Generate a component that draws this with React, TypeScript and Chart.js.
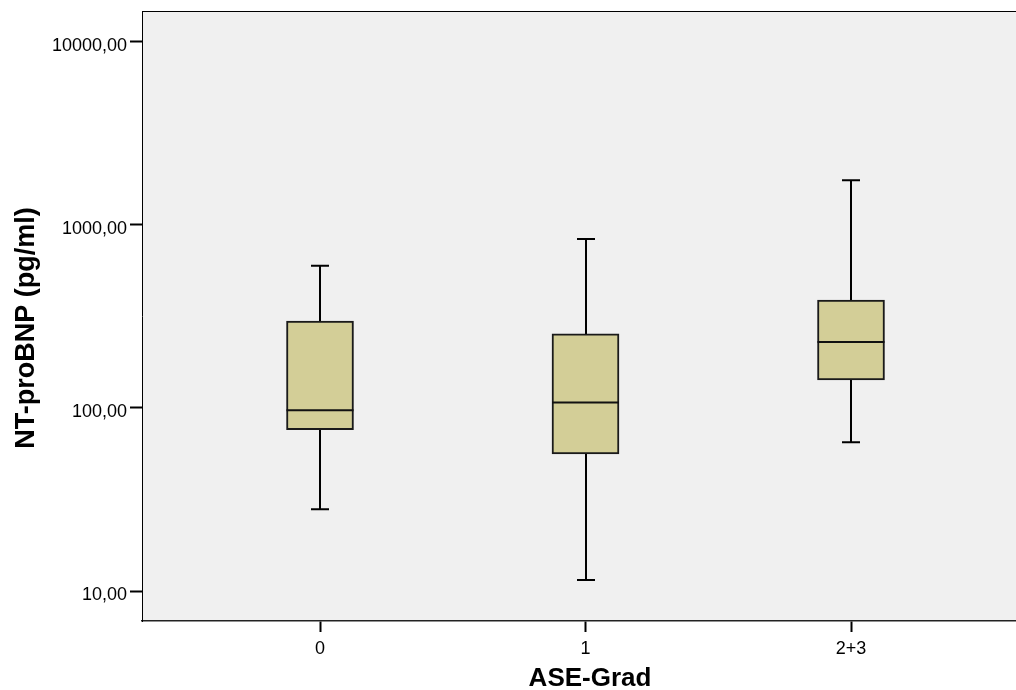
import React, { useEffect, useRef } from 'react';
import { Chart, registerables } from 'chart.js';

Chart.register(...registerables);

// ---- data ----
const categories = ['0', '1', '2+3'];
const whiskerLow = [28, 11.5, 65];
const q1 = [76, 56, 142];
const median = [97, 107, 229];
const q3 = [298, 254, 388];
const whiskerHigh = [598, 836, 1750];
const yTickValues = [10, 100, 1000, 10000];
const xTitle = 'ASE-Grad';
const yTitle = 'NT-proBNP (pg/ml)';

const FONT = "Arial, 'Liberation Sans', sans-serif";

export default function App() {
  const ref = useRef<HTMLCanvasElement>(null);

  useEffect(() => {
    const canvas = ref.current;
    if (!canvas) return;

    const capHalf = 9;

    const boxPlugin = {
      id: 'boxExtras',
      beforeDraw(chart: any) {
        const { ctx, chartArea: a } = chart;
        ctx.save();
        ctx.fillStyle = '#F0F0F0';
        ctx.fillRect(a.left, a.top, a.right - a.left, a.bottom - a.top);
        ctx.restore();
      },
      beforeDatasetsDraw(chart: any) {
        const { ctx } = chart;
        const xs = chart.scales.x;
        const ys = chart.scales.y;
        ctx.save();
        ctx.strokeStyle = '#000';
        ctx.lineWidth = 2;
        ctx.lineCap = 'butt';
        categories.forEach((_, i) => {
          const px = Math.round(xs.getPixelForValue(i));
          const yl = ys.getPixelForValue(whiskerLow[i]);
          const yh = ys.getPixelForValue(whiskerHigh[i]);
          ctx.beginPath();
          ctx.moveTo(px, yl);
          ctx.lineTo(px, yh);
          ctx.moveTo(px - capHalf, yl);
          ctx.lineTo(px + capHalf, yl);
          ctx.moveTo(px - capHalf, yh);
          ctx.lineTo(px + capHalf, yh);
          ctx.stroke();
        });
        ctx.restore();
      },
      afterDatasetsDraw(chart: any) {
        const { ctx } = chart;
        const ys = chart.scales.y;
        const meta = chart.getDatasetMeta(0);
        ctx.save();
        ctx.strokeStyle = '#111';
        ctx.lineWidth = 2;
        meta.data.forEach((bar: any, i: number) => {
          const { x, width } = bar.getProps(['x', 'width'], true);
          const ym = ys.getPixelForValue(median[i]);
          ctx.beginPath();
          ctx.moveTo(x - width / 2, ym);
          ctx.lineTo(x + width / 2, ym);
          ctx.stroke();
        });
        ctx.restore();
      },
      afterDraw(chart: any) {
        const { ctx, chartArea: a } = chart;
        ctx.save();
        // top frame line
        ctx.strokeStyle = '#000';
        ctx.lineWidth = 1;
        ctx.beginPath();
        ctx.moveTo(a.left, a.top + 0.5);
        ctx.lineTo(a.right, a.top + 0.5);
        ctx.stroke();
        // axis titles
        ctx.fillStyle = '#000';
        ctx.textAlign = 'center';
        ctx.textBaseline = 'alphabetic';
        ctx.font = `bold 26px ${FONT}`;
        ctx.fillText(xTitle, 590, 686);
        ctx.translate(34, 328);
        ctx.rotate(-Math.PI / 2);
        ctx.font = `bold 27px ${FONT}`;
        ctx.fillText(yTitle, 0, 0);
        ctx.restore();
      },
    };

    const chart = new Chart(canvas, {
      type: 'bar',
      data: {
        datasets: [
          {
            label: 'box',
            data: categories.map((_, i) => ({ x: i, y: [q1[i], q3[i]] })) as any,
            backgroundColor: '#D3CE97',
            borderColor: '#1a1a1a',
            borderWidth: 2,
            borderSkipped: false,
            barThickness: 67,
            grouped: false,
          } as any,
        ],
      },
      options: {
        animation: false,
        responsive: false,
        devicePixelRatio: 1,
        layout: { padding: { top: 11, left: 0, right: 0, bottom: 0 } },
        plugins: {
          legend: { display: false },
          tooltip: { enabled: false },
          title: { display: false },
        },
        scales: {
          x: {
            type: 'linear',
            offset: false,
            min: -178 / 265.5,
            max: 2 + 165 / 265.5,
            afterBuildTicks: (s: any) => {
              s.ticks = categories.map((_, i) => ({ value: i }));
            },
            afterFit: (s: any) => {
              s.height = 69;
              s.paddingLeft = 0;
              s.paddingRight = 0;
            },
            ticks: {
              callback: (v: any) => categories[Number(v)] ?? '',
              color: '#000',
              font: { family: FONT, size: 18 },
              padding: 6,
              autoSkip: false,
              maxRotation: 0,
            },
            grid: {
              display: true,
              offset: false,
              drawOnChartArea: false,
              drawTicks: true,
              tickLength: 11,
              tickWidth: 2,
              tickColor: '#000',
            },
            border: { display: true, color: '#222', width: 1.5 },
          },
          y: {
            type: 'logarithmic',
            min: 6.86,
            max: 14715,
            afterBuildTicks: (s: any) => {
              s.ticks = yTickValues.map((v) => ({ value: v }));
            },
            afterFit: (s: any) => {
              s.width = 142;
              s.paddingTop = 0;
              s.paddingBottom = 0;
            },
            ticks: {
              callback: (v: any) => Number(v).toFixed(2).replace('.', ','),
              color: '#000',
              font: { family: FONT, size: 18 },
              padding: 3,
              labelOffset: 4,
              autoSkip: false,
            },
            grid: {
              display: true,
              drawOnChartArea: false,
              drawTicks: true,
              tickLength: 12,
              tickWidth: 2,
              tickColor: '#000',
            },
            border: { display: true, color: '#000', width: 1 },
          },
        },
      } as any,
      plugins: [boxPlugin],
    });

    return () => chart.destroy();
  }, []);

  return (
    <div style={{ position: 'fixed', left: 0, top: 0, width: 1016, height: 690, background: '#fff' }}>
      <canvas ref={ref} width={1016} height={690} style={{ display: 'block' }} />
    </div>
  );
}
